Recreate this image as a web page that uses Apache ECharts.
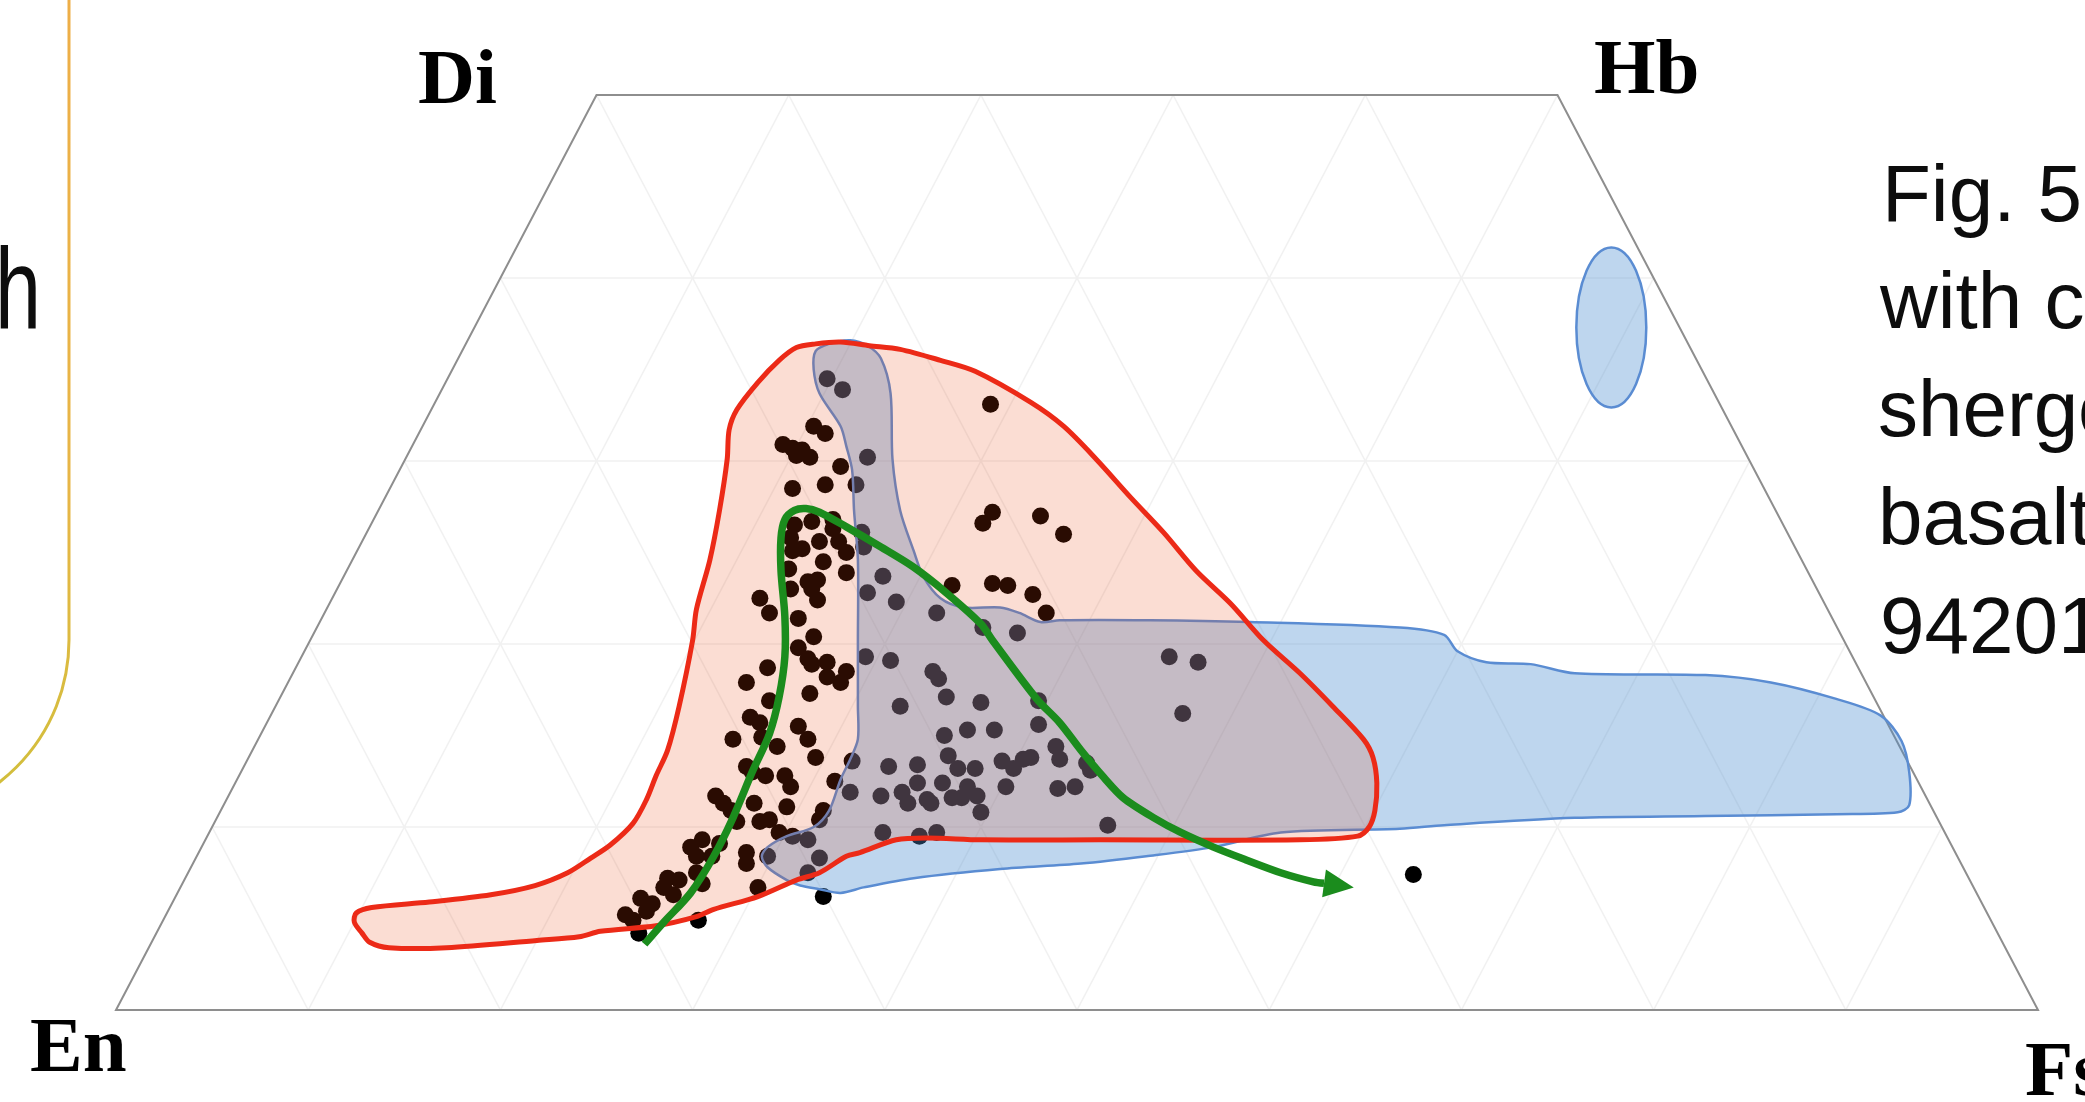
<!DOCTYPE html>
<html>
<head>
<meta charset="utf-8">
<script src="https://cdn.jsdelivr.net/npm/echarts@6/dist/echarts.min.js"></script>
<style>
  html, body { margin: 0; padding: 0; background: #ffffff; }
  #chart { width: 2085px; height: 1102px; }
</style>
</head>
<body>
<div id="chart"></div>
<script>
// Pyroxene quadrilateral (En–Fs base, Di–Hd top at Wo = 50).
// x = Fs + Wo/2 : position along the En–Fs base, in %
// y = Wo        : wollastonite component, in %
const corners = [[0, 0], [100, 0], [75, 50], [25, 50]];
const cornerNames = ['En', 'Fs', 'Hb', 'Di'];
const baseTicks = [10, 20, 30, 40, 50, 60, 70, 80, 90];
const woTicks = [10, 20, 30, 40];
const WO_MAX = 50;

// analysed pyroxene grains [x, Wo]
const pyroxenePoints = [
  [37.0,34.5],[37.8,33.9],[45.5,33.1],[36.3,31.9],[36.9,31.5],[34.7,30.9],[35.2,30.7],[35.7,30.6],
  [35.4,30.3],[36.1,30.2],[39.1,30.2],[37.7,29.7],[35.2,28.5],[36.9,28.7],[38.5,28.7],[45.6,27.2],
  [45.1,26.6],[35.3,26.5],[36.2,26.7],[37.3,26.8],[37.3,26.3],[35.1,25.8],[36.6,25.6],[37.6,25.6],
  [38.8,26.1],[38.9,25.3],[35.2,25.1],[35.7,25.2],[38.0,25.0],[36.8,24.5],[35.0,24.1],[38.0,23.9],
  [39.9,23.7],[36.0,23.4],[36.5,23.5],[35.1,23.0],[36.2,23.0],[39.1,22.8],[36.5,22.4],[33.5,22.5],
  [34.0,21.7],[40.6,22.3],[43.5,23.2],[45.6,23.3],[42.7,21.7],[35.5,21.4],[45.1,20.9],[36.3,20.4],
  [48.1,27.0],[49.3,26.0],[46.4,23.2],[47.7,22.7],[48.4,21.7],[46.9,20.6],
  [35.5,19.8],[36.0,19.2],[36.2,18.9],[37.0,19.0],[38.0,18.5],[37.0,18.2],[37.7,17.9],[33.9,18.7],
  [32.8,17.9],[36.1,17.3],[39.0,19.3],[40.3,19.1],[42.5,18.5],[42.8,18.1],[43.2,17.1],[45.0,16.8],
  [40.8,16.6],[34.0,16.9],[33.0,16.0],[33.5,15.7],[35.5,15.5],[36.0,14.8],[32.1,14.8],[33.6,14.9],
  [34.4,14.4],[36.4,13.8],[43.1,15.0],[44.3,15.3],[45.7,15.3],[38.3,13.6],[40.2,13.3],[41.7,13.4],
  [43.3,13.9],[43.8,13.2],[44.7,13.2],[32.8,13.3],[33.1,13.0],[33.8,12.8],[34.8,12.8],[35.1,12.2],
  [37.4,12.5],[38.2,11.9],[39.8,11.7],[40.9,11.9],[41.7,12.4],[42.2,11.5],[43.0,12.4],[43.5,11.6],
  [44.3,12.2],[44.8,11.7],[45.0,10.8],[44.0,11.6],[41.2,11.3],[42.4,11.3],[31.2,11.7],[31.6,11.3],
  [32.0,10.9],[32.3,10.3],[33.2,11.3],[34.9,11.1],[33.5,10.3],[34.0,10.4],[34.5,9.7],[36.8,10.9],
  [36.6,10.4],[35.2,9.5],[36.0,9.3],[39.9,9.7],[41.8,9.5],[42.7,9.7],[29.9,8.9],[30.5,9.3],
  [31.4,9.1],[30.2,8.4],[31.0,8.4],[32.8,8.6],[32.8,8.0],[33.9,8.4],[36.6,8.3],[36.0,7.5],
  [28.7,7.2],[29.3,7.1],[28.5,6.7],[29.0,6.3],[30.5,6.9],[30.2,7.5],[27.9,5.8],[27.3,6.1],
  [26.5,5.2],[26.9,4.9],[27.6,5.4],[27.2,4.2],[30.3,4.9],[33.4,6.7],[36.8,6.2],
  [54.8,19.3],[56.3,19.0],[55.5,16.2],[48.0,16.9],[48.0,15.6],[48.9,14.4],[49.1,13.7],[46.1,13.6],
  [47.2,13.7],[46.7,13.2],[47.6,13.8],[46.3,12.2],[49.0,12.1],[49.9,12.2],[50.5,13.5],[50.7,13.1],
  [51.6,10.1],[67.5,7.4]
];

// outline of the red compositional field
const redField = [
  [12.5,5.3],[13.3,5.6],[16.3,5.9],[19.5,6.3],[21.8,6.8],[23.5,7.5],[24.7,8.3],[25.7,9.0],
  [26.9,10.2],[27.6,11.5],[28.1,12.8],[28.7,14.2],[29.3,16.6],[30.0,20.2],[30.2,21.9],[30.9,24.6],
  [31.4,27.3],[31.8,30.1],[31.9,31.7],[32.3,32.8],[33.4,34.3],[34.5,35.5],[35.4,36.2],[36.4,36.4],
  [37.7,36.5],[39.2,36.3],[40.8,36.1],[42.9,35.5],[44.7,34.9],[47.6,33.2],[49.3,31.9],[51.0,30.1],
  [52.8,28.0],[54.5,26.1],[56.2,24.0],[58.0,22.2],[59.7,20.2],[61.6,18.4],[63.3,16.6],[64.9,14.8],
  [65.4,13.8],[65.6,12.4],[65.5,10.9],[65.2,10.0],[64.6,9.5],[61.6,9.3],[51.2,9.3],[45.0,9.3],
  [42.2,9.4],[40.6,9.3],[38.7,8.6],[38.0,8.4],[36.6,7.5],[35.4,7.1],[33.4,6.2],[31.1,5.5],
  [30.2,5.1],[28.1,4.6],[25.2,4.3],[24.1,4.0],[21.9,3.8],[17.2,3.4],[14.2,3.4],[13.2,3.7],
  [12.8,4.2],[12.4,4.8]
];

// outline of the blue compositional field
const blueField = [
  [36.4,36.0],[37.1,36.4],[38.2,36.6],[39.1,36.3],[39.8,35.6],[40.3,33.7],[40.4,30.1],[40.8,27.3],
  [41.5,25.1],[42.0,23.7],[42.9,22.5],[44.1,22.0],[46.0,22.0],[47.0,21.7],[48.1,21.2],[49.1,21.3],
  [53.8,21.3],[59.0,21.2],[66.8,20.9],[69.1,20.5],[69.8,19.6],[71.3,19.0],[73.6,18.9],[75.9,18.4],
  [82.7,18.3],[86.1,17.9],[89.5,17.0],[91.8,16.1],[92.9,14.7],[93.3,13.0],[93.3,11.2],[92.7,10.8],
  [89.5,10.7],[82.7,10.6],[75.9,10.5],[69.1,10.1],[66.8,9.9],[60.6,9.7],[57.1,8.9],[53.6,8.4],
  [50.2,8.0],[46.0,7.7],[41.5,7.2],[38.9,6.7],[37.7,6.4],[36.6,6.6],[35.6,6.8],[34.9,7.1],
  [33.9,7.8],[33.6,8.4],[33.9,8.9],[34.9,9.5],[36.3,10.0],[37.1,10.9],[37.7,12.6],[38.2,13.7],
  [38.6,14.8],[38.6,16.6],[38.6,20.2],[38.6,24.6],[38.4,27.3],[38.3,29.5],[38.0,30.8],[37.7,31.9],
  [36.6,33.7],[36.3,35.0]
];

// small blue field near Hd: [centre x, centre Wo, half-width, half-height]
const blueEllipse = [77.8, 37.3, 1.82, 4.37];

// crystallisation trend (arrow)
const trend = [
  [27.5,3.6],[28.5,4.8],[29.9,6.4],[31.1,8.4],[32.1,10.5],[33.1,13.0],[34.0,15.1],[34.5,17.1],
  [34.8,19.3],[34.8,21.5],[34.6,24.0],[34.6,25.8],[34.8,26.8],[35.3,27.3],[35.9,27.4],[36.6,27.2],
  [38.0,26.4],[39.8,25.3],[41.5,24.2],[43.2,22.8],[45.0,21.1],[45.6,20.2],[47.9,17.0],[49.1,15.7],
  [50.2,14.2],[51.4,12.7],[52.4,11.6],[54.0,10.5],[55.4,9.7],[57.1,8.9],[58.8,8.2],[60.6,7.5],
  [62.3,7.0],[64.4,6.7]
];

const captionLines = ['Fig. 5 Pyroxene', 'with compositions', 'shergottites', 'basaltic', '94201'];

const RED_LINE = '#ec2a17';
const BLUE_LINE = '#5a8cd2';
const GREEN = '#1b8c1d';

const chart = echarts.init(document.getElementById('chart'), null, { renderer: 'canvas' });

function renderFrame(params, api) {
  const children = [];
  const gridStyle = { stroke: '#f1f1f1', lineWidth: 1.6 };
  const seg = (a, b) => {
    const p = api.coord(a), q = api.coord(b);
    children.push({ type: 'line', shape: { x1: p[0], y1: p[1], x2: q[0], y2: q[1] }, style: gridStyle });
  };
  woTicks.forEach(w => seg([w / 2, w], [100 - w / 2, w]));
  baseTicks.forEach(f => {
    const top = Math.min(WO_MAX, 100 - f);
    seg([f, 0], [f + top / 2, top]);
  });
  baseTicks.forEach(e => {
    const top = Math.min(WO_MAX, 100 - e);
    seg([100 - e, 0], [100 - e - top / 2, top]);
  });
  children.push({
    type: 'polygon',
    shape: { points: corners.map(c => api.coord(c)) },
    style: { fill: 'none', stroke: '#8e8e8e', lineWidth: 2 }
  });
  return { type: 'group', children };
}

function fieldSeries(name, pts, fill, stroke, lineWidth, z) {
  return {
    type: 'custom', name, coordinateSystem: 'cartesian2d', z, silent: true, clip: false,
    data: [pts[0]],
    renderItem: (params, api) => ({
      type: 'polygon',
      shape: { points: pts.map(p => api.coord(p)), smooth: 0.3 },
      style: { fill, stroke, lineWidth, lineJoin: 'round' }
    })
  };
}

function renderTrend(params, api) {
  const px = trend.map(p => api.coord(p));
  const tip = px[px.length - 1];
  const prev = px[px.length - 2];
  const dx = tip[0] - prev[0], dy = tip[1] - prev[1];
  const len = Math.hypot(dx, dy);
  const ux = dx / len, uy = dy / len;
  const headLen = 30, headHalf = 14;
  const base = [tip[0] - ux * headLen, tip[1] - uy * headLen];
  const linePts = px.slice(0, -1).concat([base]);
  return {
    type: 'group',
    children: [
      { type: 'polyline', shape: { points: linePts, smooth: 0.3 },
        style: { stroke: GREEN, lineWidth: 7.5, fill: null, lineJoin: 'round' } },
      { type: 'polygon',
        shape: { points: [tip, [base[0] - uy * headHalf, base[1] + ux * headHalf], [base[0] + uy * headHalf, base[1] - ux * headHalf]] },
        style: { fill: GREEN } }
    ]
  };
}

function label(text, x, baseline, size) {
  return {
    type: 'text', x, y: baseline - 0.338 * size, silent: true, z: 10,
    style: {
      text, font: 'bold ' + size + 'px "Liberation Serif", "Times New Roman", serif',
      fill: '#000', align: 'left', verticalAlign: 'middle', textAlign: 'left', textVerticalAlign: 'middle'
    }
  };
}

function captionLine(text, x, baseline, size) {
  return {
    type: 'text', x, y: baseline - 0.347 * size, silent: true, z: 10,
    style: {
      text, font: size + 'px "Liberation Sans", Arial, sans-serif',
      fill: '#0d0d0d', align: 'left', verticalAlign: 'middle', textAlign: 'left', textVerticalAlign: 'middle'
    }
  };
}

const captionBaselines = [227, 334, 442, 550, 659];
const captionX = [1882, 1880, 1878, 1878, 1880];

const graphics = [
  // neighbouring panel border and its text
  {
    type: 'rect', silent: true, z: 1,
    shape: { x: -400, y: -800, width: 469, height: 1620, r: 180 },
    style: {
      fill: 'none', lineWidth: 3,
      stroke: new echarts.graphic.LinearGradient(0, 0, 0, 1, [
        { offset: 0.45, color: '#efad48' },
        { offset: 0.8, color: '#e7b646' },
        { offset: 1, color: '#cfbf3a' }
      ])
    }
  },
  {
    type: 'text', x: -5, y: 296, scaleX: 0.72, silent: true, z: 10,
    style: { text: 'h', font: '115px "Liberation Sans", Arial, sans-serif', fill: '#0d0d0d',
      align: 'left', verticalAlign: 'middle', textAlign: 'left', textVerticalAlign: 'middle' }
  },
  label(cornerNames[3], 418, 109, 79),
  label(cornerNames[2], 1594, 99, 79),
  label(cornerNames[0], 30, 1077, 79),
  label(cornerNames[1], 2025, 1101, 79)
].concat(captionLines.map((t, i) => captionLine(t, captionX[i], captionBaselines[i], 80)));

chart.setOption({
  animation: false,
  backgroundColor: '#ffffff',
  grid: { left: 116, right: 47, top: 95, bottom: 92, containLabel: false },
  xAxis: { type: 'value', min: 0, max: 100, show: false },
  yAxis: { type: 'value', min: 0, max: 50, show: false },
  graphic: graphics,
  series: [
    {
      type: 'custom', name: 'frame', coordinateSystem: 'cartesian2d', z: 1, silent: true, clip: false,
      data: [[0, 0]], renderItem: renderFrame
    },
    {
      type: 'scatter', name: 'pyroxene', z: 2, silent: true,
      data: pyroxenePoints, symbol: 'circle', symbolSize: 17,
      itemStyle: { color: '#000000', opacity: 1 }
    },
    fieldSeries('blue field', blueField, 'rgba(75,142,208,0.36)', BLUE_LINE, 2.5, 3),
    {
      type: 'custom', name: 'blue ellipse', coordinateSystem: 'cartesian2d', z: 3, silent: true, clip: false,
      data: [[blueEllipse[0], blueEllipse[1]]],
      renderItem: (params, api) => {
        const c = api.coord([blueEllipse[0], blueEllipse[1]]);
        const s = api.size([blueEllipse[2], blueEllipse[3]]);
        return { type: 'ellipse', shape: { cx: c[0], cy: c[1], rx: s[0], ry: s[1] },
          style: { fill: 'rgba(75,142,208,0.36)', stroke: BLUE_LINE, lineWidth: 2.5 } };
      }
    },
    fieldSeries('red field', redField, 'rgba(233,66,11,0.18)', RED_LINE, 5, 4),
    {
      type: 'custom', name: 'trend', coordinateSystem: 'cartesian2d', z: 5, silent: true, clip: false,
      data: [trend[0]], renderItem: renderTrend
    }
  ]
});
</script>
</body>
</html>
